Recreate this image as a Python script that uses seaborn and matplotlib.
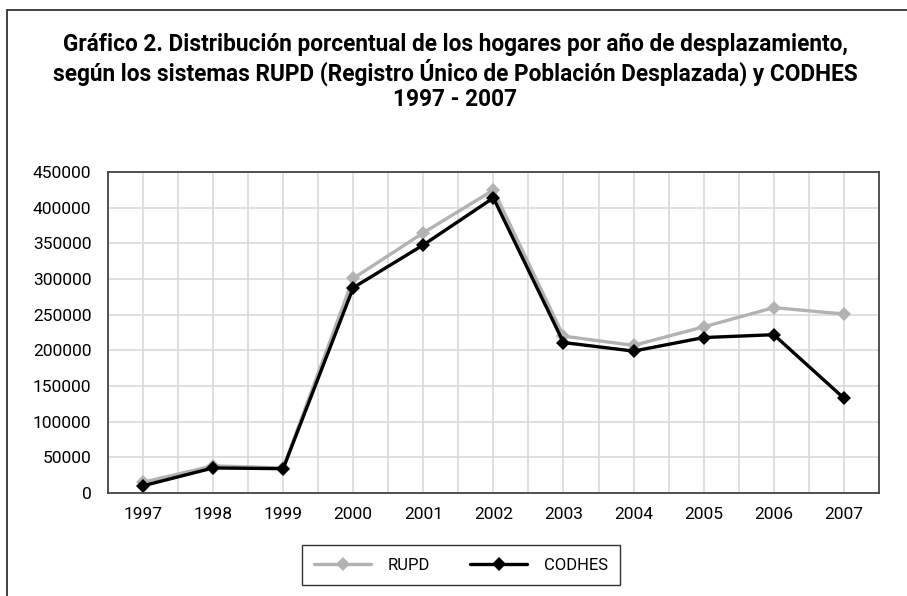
import matplotlib
matplotlib.use("Agg")
import matplotlib.pyplot as plt
import seaborn as sns
import pandas as pd
from matplotlib.patches import Rectangle

# Datos
years = ["1997", "1998", "1999", "2000", "2001", "2002", "2003", "2004", "2005", "2006", "2007"]
rupd = [15000, 38000, 35000, 301000, 365000, 425000, 220000, 207000, 233000, 260000, 251000]
codhes = [10000, 35000, 34000, 288000, 348000, 414000, 211000, 199000, 218000, 222000, 133000]
y_ticks = [0, 50000, 100000, 150000, 200000, 250000, 300000, 350000, 400000, 450000]

title = ("Gráfico 2. Distribución porcentual de los hogares por año de desplazamiento,\n"
         "según los sistemas RUPD (Registro Único de Población Desplazada) y CODHES\n"
         "1997 - 2007")

df = pd.DataFrame({"year": years * 2,
                   "hogares": rupd + codhes,
                   "sistema": ["RUPD"] * len(years) + ["CODHES"] * len(years)})
df["pos"] = df["year"].map({y: i for i, y in enumerate(years)})

sns.set_style("white")
plt.rcParams["font.family"] = ["Roboto", "DejaVu Sans"]
plt.rcParams["text.color"] = "black"
plt.rcParams["xtick.color"] = "black"
plt.rcParams["ytick.color"] = "black"

fig = plt.figure(figsize=(9.07, 5.96), dpi=100)
ax = fig.add_axes([0.119, 0.173, 0.850, 0.538])

sns.lineplot(data=df, x="pos", y="hogares", hue="sistema", style="sistema",
             palette={"RUPD": "#b2b2b2", "CODHES": "black"},
             markers={"RUPD": "D", "CODHES": "D"}, dashes=False,
             markersize=7, linewidth=2.4, markeredgewidth=0, ax=ax)

ax.set_xlim(-0.5, len(years) - 0.5)
ax.set_ylim(0, 450000)
ax.set_xticks(range(len(years)))
ax.set_xticklabels(years)
ax.set_yticks(y_ticks)
ax.set_yticklabels([str(v) for v in y_ticks])
ax.set_xticks([i - 0.5 for i in range(len(years) + 1)], minor=True)
ax.grid(True, which="both", axis="x", color="#d9d9d9", linewidth=1.2)
ax.grid(True, which="major", axis="y", color="#d9d9d9", linewidth=1.2)
ax.set_axisbelow(True)
ax.tick_params(axis="both", which="both", length=0, labelsize=12.5, pad=10)
ax.tick_params(axis="y", pad=12)
for s in ax.spines.values():
    s.set_color("#444444")
    s.set_linewidth(1.3)
ax.set_xlabel("")
ax.set_ylabel("")

handles, labels = ax.get_legend_handles_labels()
leg = ax.legend(handles, labels, loc="center", bbox_to_anchor=(461 / 907, 1 - 565 / 596),
                bbox_transform=fig.transFigure, ncol=2, frameon=True, fancybox=False,
                fontsize=12, handlelength=3.4, columnspacing=2.4, borderpad=0.75,
                handletextpad=1.0)
leg.get_frame().set_edgecolor("black")
leg.get_frame().set_linewidth(1.0)

fig.text(0.502, 1 - 72 / 596, title, ha="center", va="center", fontsize=16.3,
         fontweight="bold", linespacing=1.12)

fig.patches.append(Rectangle((7 / 907, -0.1), 1.2, 1 - 10 / 596 + 0.1, transform=fig.transFigure,
                             fill=False, edgecolor="#333333", linewidth=1.3))

fig.savefig("out.png", dpi=100)
